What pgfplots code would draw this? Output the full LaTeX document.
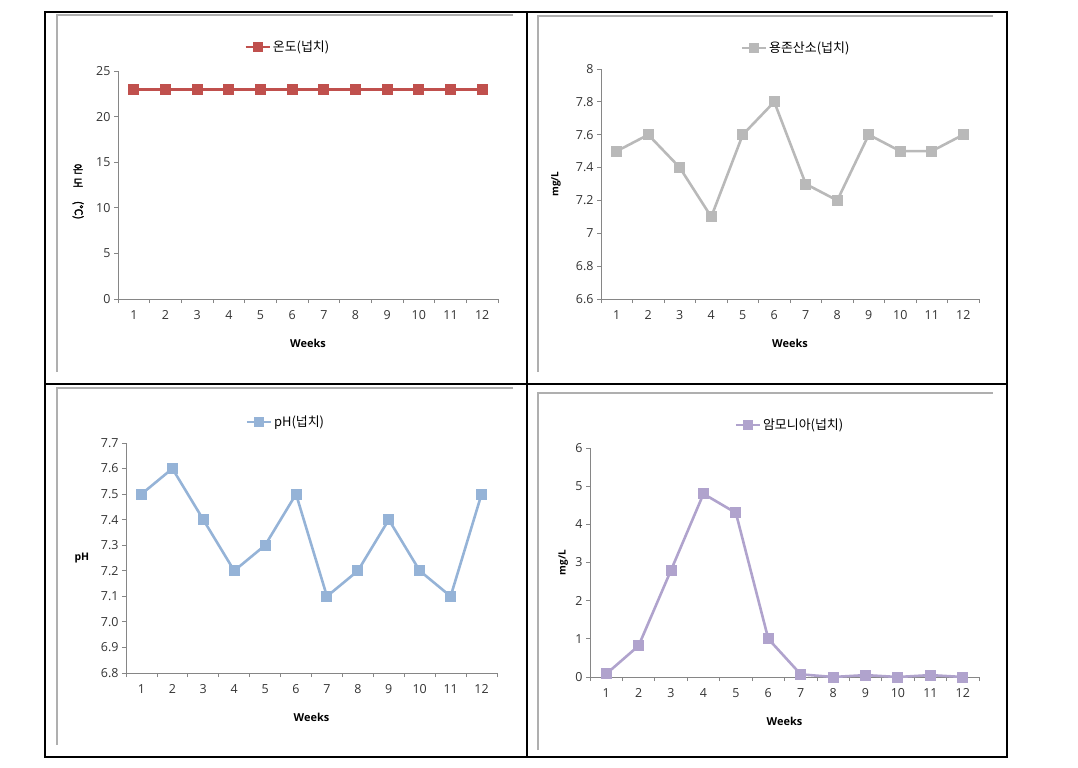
\documentclass[border=0pt]{standalone}
\usepackage{fontspec}
\setmainfont{Open Sans}
\newfontfamily\kr{Noto Sans CJK KR}
\newfontfamily\krb{Noto Sans CJK KR}[FakeBold=2.5]
\usepackage{pgfplots}
\pgfplotsset{compat=1.18}
\definecolor{cred}{RGB}{192,80,77}
\definecolor{cgray}{RGB}{185,185,185}
\definecolor{cblue}{RGB}{149,179,215}
\definecolor{cpurp}{RGB}{176,163,205}
\definecolor{axisgray}{RGB}{134,134,134}
\definecolor{framegray}{RGB}{175,175,175}
\pgfplotsset{excel/.style={
  scale only axis,
  axis x line*=bottom, axis y line*=left,
  axis line style={draw=axisgray, line width=0.8bp},
  xmin=0.5, xmax=12.5, xtick={1,...,12},
  minor xtick={0.5,1.5,...,12.5},
  major x tick style={draw=none},
  minor x tick style={draw=axisgray, line width=0.8bp},
  y tick style={draw=axisgray, line width=0.8bp},
  tick align=outside,
  major tick length=4bp, minor tick length=4bp,
  ticklabel style={font=\fontsize{12.5}{14}\selectfont, text=black!80},
  xticklabel style={yshift=-4bp},
  /pgf/number format/assume math mode=true,
  xlabel={\textbf{Weeks}},
  xlabel style={at={(axis description cs:0.5,0)}, anchor=center, yshift=-44bp, font=\fontsize{11}{12}\selectfont},
  legend style={draw=none, fill=none, anchor=center, font=\kr\fontsize{13}{15}\selectfont, inner sep=1bp},
  legend image code/.code={\draw[##1, mark repeat=2, mark phase=2, line width=2.4bp, mark size=3.8bp] plot coordinates {(0bp,0bp) (12bp,0bp) (24bp,0bp)};},
  every axis plot/.append style={line width=2.6bp, mark=square*, mark size=4.2bp, mark options={solid}},
  clip=false,
}}
\begin{document}
\begin{tikzpicture}
\path[use as bounding box] (0,0) rectangle (1078bp,-768bp);
% chart area frames
\begin{scope}[draw=framegray, line width=1.4bp]
\draw (57bp,-372bp) -- (57bp,-15bp) -- (513bp,-15bp);
\draw (538bp,-372bp) -- (538bp,-16bp) -- (993bp,-16bp);
\draw (57bp,-745bp) -- (57bp,-388bp) -- (513bp,-388bp);
\draw (538bp,-750bp) -- (538bp,-393bp) -- (993bp,-393bp);
\end{scope}
% table lines
\draw[black, line width=1.2bp] (45bp,-12bp) rectangle (1007bp,-757bp);
\draw[black, line width=1.2bp] (527bp,-12bp) -- (527bp,-757bp);
\draw[black, line width=1.2bp] (45bp,-384bp) -- (1007bp,-384bp);

% Top-left: temperature
\begin{axis}[excel, at={(118bp,-299bp)}, anchor=south west, width=380bp, height=228bp,
  ymin=0, ymax=25, ytick={0,5,10,15,20,25},
  legend style={at={(0.447,1.105)}}]
\addplot[color=cred] coordinates {(1,23)(2,23)(3,23)(4,23)(5,23)(6,23)(7,23)(8,23)(9,23)(10,23)(11,23)(12,23)};
\addlegendentry{온도(넙치)}
\node[font=\krb\fontsize{11}{14}\selectfont, align=center, inner sep=0pt] at (axis description cs:-0.105,0.47) {온\\도\\\rotatebox{-90}{(℃)}};
\end{axis}

% Top-right: DO
\begin{axis}[excel, at={(601bp,-299bp)}, anchor=south west, width=378bp, height=230bp,
  ymin=6.6, ymax=8, ytick={6.6,6.8,7,7.2,7.4,7.6,7.8,8},
  legend style={at={(0.516,1.091)}}]
\addplot[color=cgray] coordinates {(1,7.5)(2,7.6)(3,7.4)(4,7.1)(5,7.6)(6,7.8)(7,7.3)(8,7.2)(9,7.6)(10,7.5)(11,7.5)(12,7.6)};
\addlegendentry{용존산소(넙치)}
\node[font=\bfseries\fontsize{10}{10}\selectfont, rotate=90] at (axis description cs:-0.119,0.5) {mg/L};
\end{axis}

% Bottom-left: pH
\begin{axis}[excel, at={(126bp,-673bp)}, anchor=south west, width=371bp, height=230bp,
  ymin=6.8, ymax=7.7, ytick={6.8,6.9,7.0,7.1,7.2,7.3,7.4,7.5,7.6,7.7},
  yticklabel style={/pgf/number format/.cd, fixed, fixed zerofill, precision=1},
  legend style={at={(0.431,1.091)}}]
\addplot[color=cblue] coordinates {(1,7.5)(2,7.6)(3,7.4)(4,7.2)(5,7.3)(6,7.5)(7,7.1)(8,7.2)(9,7.4)(10,7.2)(11,7.1)(12,7.5)};
\addlegendentry{pH(넙치)}
\node[font=\bfseries\fontsize{10.5}{10}\selectfont] at (axis description cs:-0.119,0.5) {pH};
\end{axis}

% Bottom-right: ammonia
\begin{axis}[excel, at={(590bp,-677bp)}, anchor=south west, width=389bp, height=229bp,
  ymin=0, ymax=6, ytick={0,1,2,3,4,5,6},
  legend style={at={(0.514,1.100)}}]
\addplot[color=cpurp] coordinates {(1,0.08)(2,0.82)(3,2.8)(4,4.8)(5,4.3)(6,1.0)(7,0.07)(8,0.0)(9,0.05)(10,0.0)(11,0.05)(12,0.0)};
\addlegendentry{암모니아(넙치)}
\node[font=\bfseries\fontsize{10}{10}\selectfont, rotate=90] at (axis description cs:-0.069,0.5) {mg/L};
\end{axis}
\end{tikzpicture}
\end{document}
